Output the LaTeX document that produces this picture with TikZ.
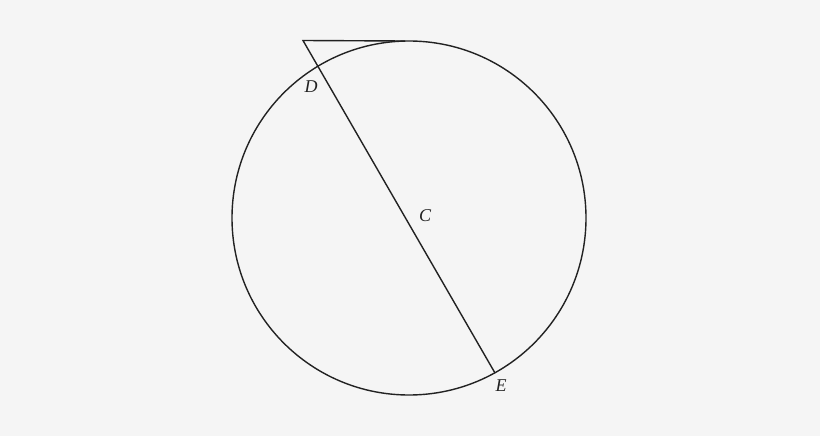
\documentclass[tikz,border=0pt]{standalone}
\usepackage{fontspec}
\setmainfont{Liberation Serif}
\definecolor{bg}{HTML}{F5F5F5}
\definecolor{ink}{HTML}{222222}
\begin{document}
\begin{tikzpicture}[x=1pt,y=-1pt,
  geo/.style={draw=ink,line width=1.4pt},
  lbl/.style={text=ink,font=\fontsize{18}{20}\selectfont\itshape,inner sep=0pt}]
\fill[bg] (0,0) rectangle (820,436);
\useasboundingbox (0,0) rectangle (820,436);
\coordinate (O) at (409,218);
\coordinate (P) at (303,40.5);
\coordinate (T) at (405,41);
\coordinate (E) at (495,373);
\draw[geo] (O) circle[radius=177];
\draw[geo] (T) -- (P) -- (E);
\node[lbl] (D) at (311,87) {D};
\node[lbl] (C) at (425,216) {C};
\node[lbl] (Elbl) at (501,386) {E};
\end{tikzpicture}
\end{document}
